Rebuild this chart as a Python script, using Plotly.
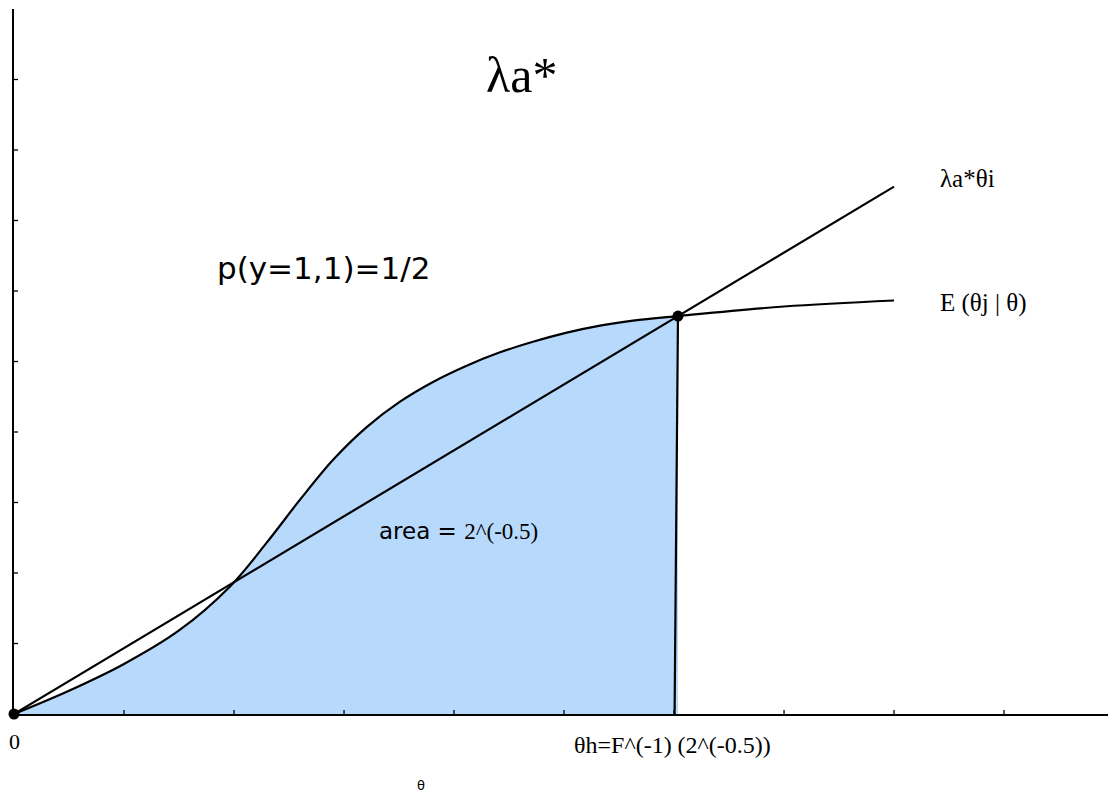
import plotly.graph_objects as go

# ---- data ----
theta_E = [0, 0.5, 1.0, 1.5, 1.964, 2.297, 2.6, 2.903, 3.206, 3.509, 3.809, 4.115,
           4.418, 4.718, 5.025, 5.327, 5.627, 6.036, 7.0, 8.0]
E_vals = [0, 0.33, 0.71, 1.185, 1.81, 2.43, 3.04, 3.61, 4.07, 4.43, 4.71, 4.94,
          5.13, 5.28, 5.41, 5.51, 5.58, 5.645, 5.78, 5.865]

line_x = [0, 8.0]
line_y = [0, 7.48]

theta_h = 6.036       # intersection point
E_h = 5.645
theta_h_base = 6.005  # foot of the vertical boundary

dots_x = [0, theta_h]
dots_y = [0, E_h]

xticks = [1, 2, 3, 4, 5, 6, 7, 8, 9]
yticks = [1, 2, 3, 4, 5, 6, 7, 8, 9]

x_range = [0, 9.945]
y_range = [0, 10]

SERIF = "Liberation Serif, Times New Roman, serif"
SANS = "DejaVu Sans, Verdana, sans-serif"
FILL = "#b7d9fc"

fig = go.Figure()

# shaded area under E curve up to theta_h
fx = [t for t in theta_E if t <= theta_h]
fy = E_vals[:len(fx)]
fig.add_trace(go.Scatter(x=fx, y=fy, mode="lines", fill="tozeroy", fillcolor=FILL,
                         line=dict(width=0, shape="spline", color=FILL), hoverinfo="skip"))

# E(theta_j | theta) curve
fig.add_trace(go.Scatter(x=theta_E, y=E_vals, mode="lines",
                         line=dict(color="black", width=2.2, shape="spline", smoothing=1.0),
                         cliponaxis=False))

# lambda a* theta line
fig.add_trace(go.Scatter(x=line_x, y=line_y, mode="lines",
                         line=dict(color="black", width=2.2), cliponaxis=False))

# vertical boundary
fig.add_trace(go.Scatter(x=[theta_h, theta_h_base], y=[E_h, 0], mode="lines",
                         line=dict(color="black", width=2.2), cliponaxis=False))

# crossing ticks on axes
dx = 4 / 110.0
dy = 4 / 70.5
tx, ty = [], []
for t in xticks:
    tx += [t, t, None]
    ty += [-dy, dy, None]
fig.add_trace(go.Scatter(x=tx, y=ty, mode="lines", line=dict(color="black", width=1.3),
                         cliponaxis=False, hoverinfo="skip"))
ux, uy = [], []
for t in yticks:
    ux += [-dx, dx, None]
    uy += [t, t, None]
fig.add_trace(go.Scatter(x=ux, y=uy, mode="lines", line=dict(color="black", width=1.3),
                         cliponaxis=False, hoverinfo="skip"))

# dots
fig.add_trace(go.Scatter(x=dots_x, y=dots_y, mode="markers",
                         marker=dict(color="black", size=11), cliponaxis=False))

ann = [
    dict(text="λa*", x=4.61, y=9.06, font=dict(family=SERIF, size=50)),
    dict(text="p(y=1,1)=1/2", x=2.81, y=6.33, font=dict(family=SANS, size=31)),
    dict(text="λa*θi", x=8.40, y=7.60, xanchor="left", font=dict(family=SERIF, size=25)),
    dict(text="E (θj | θ)", x=8.40, y=5.83, xanchor="left", font=dict(family=SERIF, size=25)),
    dict(text='area = <span style="font-family:Liberation Serif">2^(-0.5)</span>',
         x=3.30, y=2.60, xanchor="left", font=dict(family=SANS, size=23)),
    dict(text="0", x=0, y=0, yshift=-27, font=dict(family=SERIF, size=22)),
    dict(text="θh=F^(-1) (2^(-0.5))", x=5.99, y=0, yshift=-31, font=dict(family=SERIF, size=24)),
    dict(text="θ", x=3.70, y=0, yshift=-71, font=dict(family=SANS, size=13)),
]
for a in ann:
    a.setdefault("showarrow", False)
    a["font"]["color"] = "black"
    fig.add_annotation(**a)

fig.update_xaxes(range=x_range, showgrid=False, zeroline=False, showline=True,
                 linecolor="black", linewidth=1.5, ticks="", showticklabels=False, fixedrange=True)
fig.update_yaxes(range=y_range, showgrid=False, zeroline=False, showline=True,
                 linecolor="black", linewidth=1.5, ticks="", showticklabels=False, fixedrange=True)

fig.update_layout(width=1108, height=799, margin=dict(l=14, r=0, t=9, b=85, pad=0),
                  plot_bgcolor="white", paper_bgcolor="white", showlegend=False)

fig.write_html("out.html", config={"displayModeBar": False},
               post_script="document.body.style.margin='0';document.body.style.overflow='hidden';")
